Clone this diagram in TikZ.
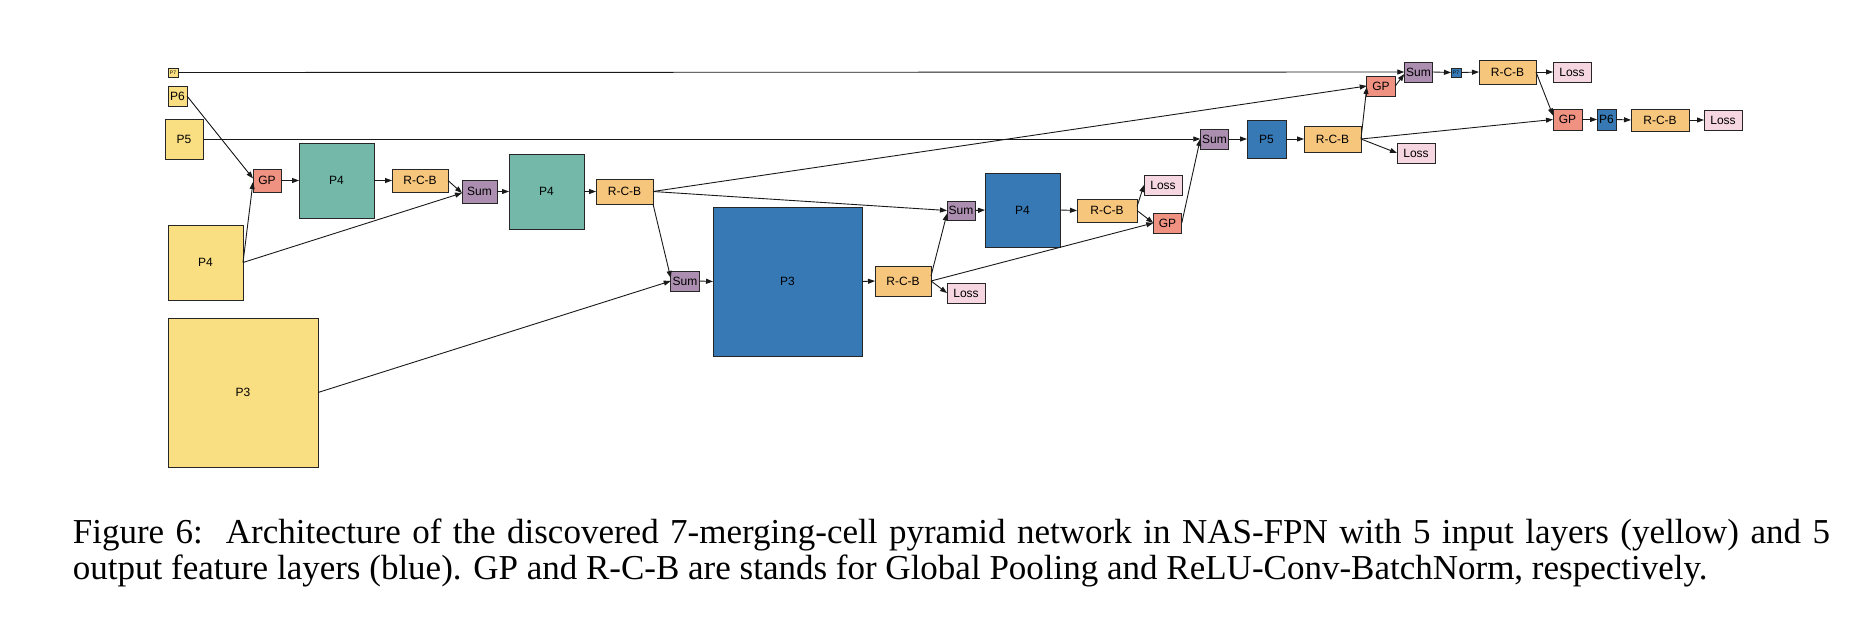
\documentclass[tikz,border=0pt]{standalone}
\usepackage{fontspec}
\setmainfont{Liberation Serif}
\setsansfont{Liberation Sans}
\usetikzlibrary{arrows.meta,calc}

\definecolor{inyellow}{RGB}{249,222,130}
\definecolor{midteal}{RGB}{115,184,169}
\definecolor{outblue}{RGB}{54,121,180}
\definecolor{rcborange}{RGB}{247,198,125}
\definecolor{sumpurple}{RGB}{172,143,176}
\definecolor{gpsalmon}{RGB}{240,146,130}
\definecolor{losspink}{RGB}{245,214,225}

\tikzset{
  cell/.style={draw=black!85, line width=1pt, inner sep=0pt, outer sep=0pt,
    font=\sffamily\fontsize{12}{14}\selectfont},
  inbox/.style={cell, fill=inyellow},
  midbox/.style={cell, fill=midteal},
  outbox/.style={cell, fill=outblue},
  rcbbox/.style={cell, fill=rcborange, minimum width=57pt, minimum height=24pt},
  sumbox/.style={cell, fill=sumpurple, minimum width=28.5pt, minimum height=20pt},
  gpbox/.style={cell, fill=gpsalmon, minimum width=28.5pt, minimum height=20pt},
  lossbox/.style={cell, fill=losspink, minimum width=38pt, minimum height=20pt},
  tinytext/.style={font=\sffamily\fontsize{5}{6}\selectfont},
  sz/.style 2 args={minimum width=#1pt, minimum height=#2pt},
  arr/.style={-{Triangle[length=7pt,width=5pt]}, line width=0.9pt, draw=black!90},
  captext/.style={font=\fontsize{35}{36}\selectfont, inner sep=0pt, anchor=base west}
}

\begin{document}
\begin{tikzpicture}[x=1pt,y=-1pt]
\useasboundingbox (0,0) rectangle (1868,632);

% input feature layers
\node[inbox, tinytext, sz={10}{9}] (in7) at (173,72.5) {P7};
\node[inbox, sz={19}{20}] (in6) at (177.5,96) {P6};
\node[inbox, sz={38}{40}] (in5) at (184,139) {P5};
\node[inbox, sz={75}{75}] (in4) at (205.5,262.5) {P4};
\node[inbox, sz={150}{149}] (in3) at (243,392.5) {P3};

% first merging cells
\node[gpbox, sz={28}{23}] (gp1) at (267,180.5) {GP};
\node[midbox, sz={75}{75}] (p4a) at (336.5,180.5) {P4};
\node[rcbbox, sz={56}{23}] (rcb1) at (420,180.5) {R-C-B};
\node[sumbox, sz={35}{23}] (sum1) at (479.5,191.5) {Sum};
\node[midbox, sz={75}{75}] (p4b) at (546.5,191.5) {P4};
\node[rcbbox, sz={57}{25}] (rcb2) at (624.5,191.5) {R-C-B};

% output P3
\node[sumbox] (sum2) at (685,281) {Sum};
\node[outbox, sz={149}{149}] (p3o) at (787.5,281.5) {P3};
\node[rcbbox, sz={56}{30}] (rcb3) at (903,281) {R-C-B};
\node[lossbox] (loss1) at (966,293) {Loss};

% output P4
\node[sumbox, sz={28}{19}] (sum3) at (961,210.5) {Sum};
\node[outbox, sz={75}{74}] (p4o) at (1022.5,210) {P4};
\node[rcbbox, sz={60}{23}] (rcb4) at (1107,210.5) {R-C-B};
\node[lossbox] (loss2) at (1163,185) {Loss};
\node[gpbox] (gp2) at (1167.5,223) {GP};

% output P5
\node[sumbox] (sum4) at (1214.5,139) {Sum};
\node[outbox, sz={39}{38}] (p5o) at (1266.5,139) {P5};
\node[rcbbox, sz={57}{26}] (rcb5) at (1332.5,139) {R-C-B};
\node[lossbox] (loss3) at (1416,153) {Loss};

% output P7
\node[gpbox] (gp3) at (1381,86) {GP};
\node[sumbox] (sum5) at (1418.5,72) {Sum};
\node[outbox, tinytext, sz={10}{9}] (p7o) at (1456,72.5) {P7};
\node[rcbbox] (rcb6) at (1507.5,72) {R-C-B};
\node[lossbox] (loss4) at (1572,72) {Loss};

% output P6
\node[gpbox, sz={29}{21}] (gp4) at (1567.5,119.5) {GP};
\node[outbox, sz={19}{21}] (p6o) at (1606.5,119.5) {P6};
\node[rcbbox, sz={58}{22}] (rcb7) at (1660,120) {R-C-B};
\node[lossbox] (loss5) at (1723,120) {Loss};

% connections
\draw[arr] (in7.east) -- (sum5.west);
\draw[arr] (in6.east) -- ($(gp1.west)+(0,-2)$);
\draw[arr] (in4.east) -- ($(gp1.west)+(0,1.5)$);
\draw[arr] (in4.east) -- ($(sum1.west)+(0,1.5)$);
\draw[arr] (gp1.east) -- (p4a.west);
\draw[arr] (p4a.east) -- (rcb1.west);
\draw[arr] (rcb1.east) -- ($(sum1.west)+(0,1.5)$);
\draw[arr] (sum1.east) -- (p4b.west);
\draw[arr] (p4b.east) -- (rcb2.west);
\draw[arr] (rcb2.east) -- (gp3.west);
\draw[arr] (rcb2.east) -- (sum3.west);
\draw[arr] (rcb2.south east) -- ($(sum2.west)+(0,-3)$);
\draw[arr] (in3.east) -- (sum2.west);
\draw[arr] (sum2.east) -- (p3o.west);
\draw[arr] (p3o.east) -- (rcb3.west);
\draw[arr] ($(rcb3.east)+(0,-5)$) -- ($(sum3.west)+(0,3)$);
\draw[arr] (rcb3.east) -- (loss1.west);
\draw[arr] (rcb3.east) -- (gp2.west);
\draw[arr] (sum3.east) -- (p4o.west);
\draw[arr] (p4o.east) -- (rcb4.west);
\draw[arr] ($(rcb4.east)+(0,-4)$) -- (loss2.west);
\draw[arr] (rcb4.east) -- (gp2.west);
\draw[arr] (gp2.east) -- (sum4.west);
\draw[arr] (in5.east) -- (sum4.west);
\draw[arr] (sum4.east) -- (p5o.west);
\draw[arr] (p5o.east) -- (rcb5.west);
\draw[arr] (rcb5.east) -- ($(gp3.west)+(0,1)$);
\draw[arr] (rcb5.east) -- (loss3.west);
\draw[arr] (rcb5.east) -- (gp4.west);
\draw[arr] (gp3.east) -- ($(sum5.west)+(0,2)$);
\draw[arr] (sum5.east) -- (p7o.west);
\draw[arr] (p7o.east) -- (rcb6.west);
\draw[arr] (rcb6.east) -- (loss4.west);
\draw[arr] (rcb6.east) -- ($(gp4.west)+(0,-4)$);
\draw[arr] (gp4.east) -- (p6o.west);
\draw[arr] (p6o.east) -- (rcb7.west);
\draw[arr] (rcb7.east) -- (loss5.west);

% caption
\node[captext] (cap1) at (72.7,543) {\makebox[1757pt][s]{Figure 6:\ \ Architecture of the discovered 7-merging-cell pyramid network in NAS-FPN with 5 input layers (yellow) and 5}};
\node[captext] (cap2) at (72.7,579) {output feature layers (blue). GP and R-C-B are stands for Global Pooling and ReLU-Conv-BatchNorm, respectively.};
\end{tikzpicture}
\end{document}
